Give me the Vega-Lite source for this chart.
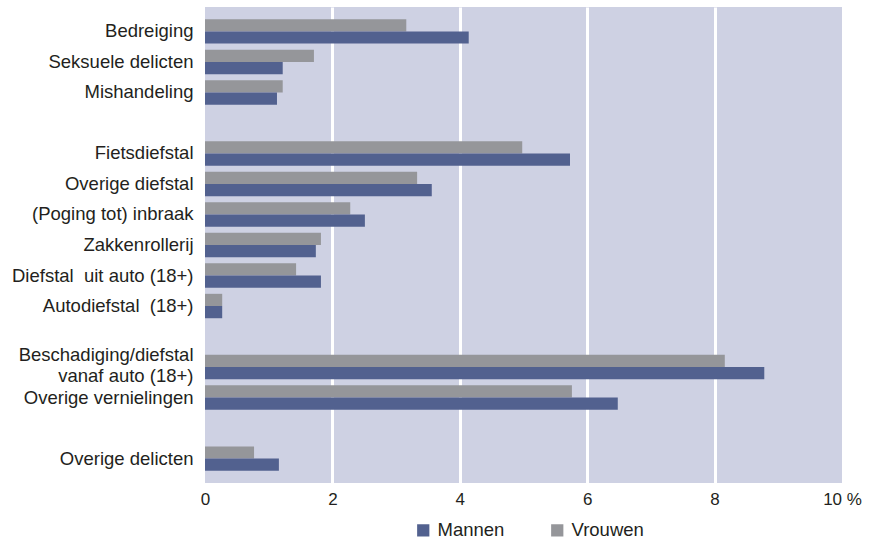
{
  "$schema": "https://vega.github.io/schema/vega-lite/v6.json",
  "autosize": {"type": "none"},
  "width": 637,
  "height": 476,
  "padding": {"left": 205, "top": 7, "right": 38, "bottom": 59},
  "background": "white",
  "config": {
    "view": {"fill": "#ced1e3", "stroke": null},
    "font": "Liberation Sans"
  },
  "data": {
    "values": [
      {"cat": "Bedreiging", "sex": "Vrouwen", "value": 3.16},
      {"cat": "Bedreiging", "sex": "Mannen", "value": 4.14},
      {"cat": "Seksuele delicten", "sex": "Vrouwen", "value": 1.71},
      {"cat": "Seksuele delicten", "sex": "Mannen", "value": 1.22},
      {"cat": "Mishandeling", "sex": "Vrouwen", "value": 1.22},
      {"cat": "Mishandeling", "sex": "Mannen", "value": 1.13},
      {"cat": "Fietsdiefstal", "sex": "Vrouwen", "value": 4.98},
      {"cat": "Fietsdiefstal", "sex": "Mannen", "value": 5.73},
      {"cat": "Overige diefstal", "sex": "Vrouwen", "value": 3.33},
      {"cat": "Overige diefstal", "sex": "Mannen", "value": 3.56},
      {"cat": "(Poging tot) inbraak", "sex": "Vrouwen", "value": 2.28},
      {"cat": "(Poging tot) inbraak", "sex": "Mannen", "value": 2.51},
      {"cat": "Zakkenrollerij", "sex": "Vrouwen", "value": 1.82},
      {"cat": "Zakkenrollerij", "sex": "Mannen", "value": 1.74},
      {"cat": "Diefstal\u00a0 uit auto (18+)", "sex": "Vrouwen", "value": 1.43},
      {"cat": "Diefstal\u00a0 uit auto (18+)", "sex": "Mannen", "value": 1.82},
      {"cat": "Autodiefstal\u00a0 (18+)", "sex": "Vrouwen", "value": 0.27},
      {"cat": "Autodiefstal\u00a0 (18+)", "sex": "Mannen", "value": 0.27},
      {"cat": "Beschadiging/diefstal |vanaf auto (18+)", "sex": "Vrouwen", "value": 8.16},
      {"cat": "Beschadiging/diefstal |vanaf auto (18+)", "sex": "Mannen", "value": 8.78},
      {"cat": "Overige vernielingen", "sex": "Vrouwen", "value": 5.76},
      {"cat": "Overige vernielingen", "sex": "Mannen", "value": 6.48},
      {"cat": "Overige delicten", "sex": "Vrouwen", "value": 0.77},
      {"cat": "Overige delicten", "sex": "Mannen", "value": 1.16}
    ]
  },
  "mark": {"type": "bar"},
  "encoding": {
    "y": {
      "field": "cat",
      "type": "nominal",
      "scale": {
        "domain": ["Bedreiging", "Seksuele delicten", "Mishandeling", "gap1", "Fietsdiefstal", "Overige diefstal", "(Poging tot) inbraak", "Zakkenrollerij", "Diefstal\u00a0 uit auto (18+)", "Autodiefstal\u00a0 (18+)", "gap2", "Beschadiging/diefstal |vanaf auto (18+)", "Overige vernielingen", "gap3", "Overige delicten"],
        "paddingInner": 0.2,
        "paddingOuter": 0.4
      },
      "axis": {
        "title": null,
        "domain": false,
        "ticks": false,
        "labelFontSize": 18.5,
        "labelColor": "#231f20",
        "labelPadding": 12,
        "labelLimit": 400,
        "labelLineHeight": 21,
        "labelOffset": {"condition": {"test": "indexof(datum.value, '|') >= 0", "value": -12}, "value": 0},
        "labelExpr": "indexof(datum.label, 'gap') == 0 ? '' : split(datum.label, '|')"
      }
    },
    "yOffset": {
      "field": "sex",
      "type": "nominal",
      "sort": ["Vrouwen", "Mannen"],
      "scale": {"paddingInner": 0, "paddingOuter": 0}
    },
    "x": {
      "field": "value",
      "type": "quantitative",
      "scale": {"domain": [0, 10], "nice": false},
      "axis": {
        "title": null,
        "values": [0, 2, 4, 6, 8, 10],
        "domain": false,
        "ticks": false,
        "labelFlush": false,
        "labelFontSize": 17,
        "labelColor": "#231f20",
        "labelPadding": 8,
        "labelExpr": "datum.value == 10 ? '10 %' : datum.label",
        "gridColor": {"condition": {"test": "datum.value > 0 && datum.value < 10", "value": "white"}, "value": "transparent"},
        "gridWidth": 3,
        "gridOpacity": 1
      }
    },
    "color": {
      "field": "sex",
      "type": "nominal",
      "scale": {"domain": ["Mannen", "Vrouwen"], "range": ["#52618f", "#95969a"]},
      "legend": {
        "title": null,
        "orient": "none",
        "direction": "horizontal",
        "legendX": 209,
        "legendY": 514,
        "padding": 0,
        "symbolType": "square",
        "symbolSize": 150,
        "symbolOpacity": 1,
        "symbolStrokeWidth": 0,
        "labelFontSize": 18.5,
        "labelColor": "#231f20",
        "labelOffset": 5,
        "columnPadding": 43
      }
    }
  }
}
